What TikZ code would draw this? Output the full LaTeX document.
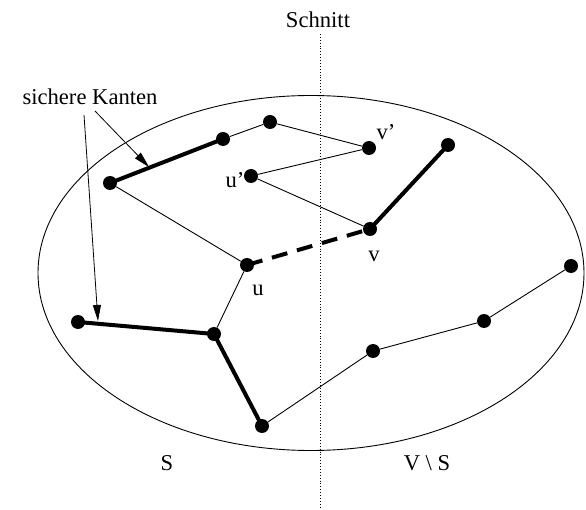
\documentclass[tikz,border=0pt]{standalone}
\usepackage{fontspec}
\setmainfont{Liberation Serif}
\usetikzlibrary{arrows.meta}
\begin{document}
\begin{tikzpicture}[x=1pt,y=-1pt,
  vertex/.style={circle,fill=black,inner sep=0pt,minimum size=14pt},
  thin edge/.style={line width=0.9pt},
  safe edge/.style={line width=4pt},
  lbl/.style={font=\fontsize{22.6}{27}\selectfont,inner sep=0pt},
  pointer/.style={line width=0.8pt,-{Triangle[length=16pt,width=8pt]}}]
\useasboundingbox (0,0) rectangle (586,510);

% the vertex set V
\draw[line width=0.9pt] (311,273) ellipse [x radius=273pt, y radius=177.5pt];

% the cut
\node[lbl] (schnitt) at (318,20) {Schnitt};
\coordinate (cuttop) at (320,34);
\coordinate (cutbot) at (320,510);
\draw[line width=0.9pt,dotted] (cuttop) -- (cutbot);

% vertices
\node[vertex] (a) at (223,139) {};
\node[vertex] (b) at (270,122) {};
\node[vertex] (vp) at (369,148) {};
\node[vertex] (d) at (448,145) {};
\node[vertex] (e) at (110,183) {};
\node[vertex] (up) at (251,176) {};
\node[vertex] (v) at (370,229) {};
\node[vertex] (u) at (247,265) {};
\node[vertex] (i) at (78,322) {};
\node[vertex] (j) at (214,334) {};
\node[vertex] (k) at (262,426) {};
\node[vertex] (l) at (373,351) {};
\node[vertex] (m) at (484,321) {};
\node[vertex] (n) at (571,266) {};

% edges
\draw[thin edge] (a) -- (b);
\draw[thin edge] (b) -- (vp);
\draw[thin edge] (vp) -- (up);
\draw[thin edge] (up) -- (v);
\draw[thin edge] (e) -- (u);
\draw[thin edge] (u) -- (j);
\draw[thin edge] (k) -- (l);
\draw[thin edge] (l) -- (m);
\draw[thin edge] (m) -- (n);
\draw[safe edge] (e.center) -- (a.center);
\draw[safe edge] (v.center) -- (d.center);
\draw[safe edge] (i.center) -- (j.center);
\draw[safe edge] (j.center) -- (k.center);
\draw[safe edge,dash pattern=on 16pt off 10pt] (u.center) -- (v.center);

% labels
\node[lbl] (lvp) at (386,132) {v'};
\node[lbl] (lup) at (235,180) {u'};
\node[lbl] (lv) at (374,256) {v};
\node[lbl] (lu) at (258,290) {u};
\node[lbl] (ls) at (167,463) {S};
\node[lbl] (lvs) at (427,463) {V \textbackslash{} S};

% pointers to the safe edges
\node[lbl] (safe) at (90,97) {sichere Kanten};
\coordinate (p1s) at (95,111);
\coordinate (p1e) at (149,167);
\coordinate (p2s) at (84,115);
\coordinate (p2e) at (98,321);
\draw[pointer] (p1s) -- (p1e);
\draw[pointer] (p2s) -- (p2e);
\end{tikzpicture}
\end{document}
